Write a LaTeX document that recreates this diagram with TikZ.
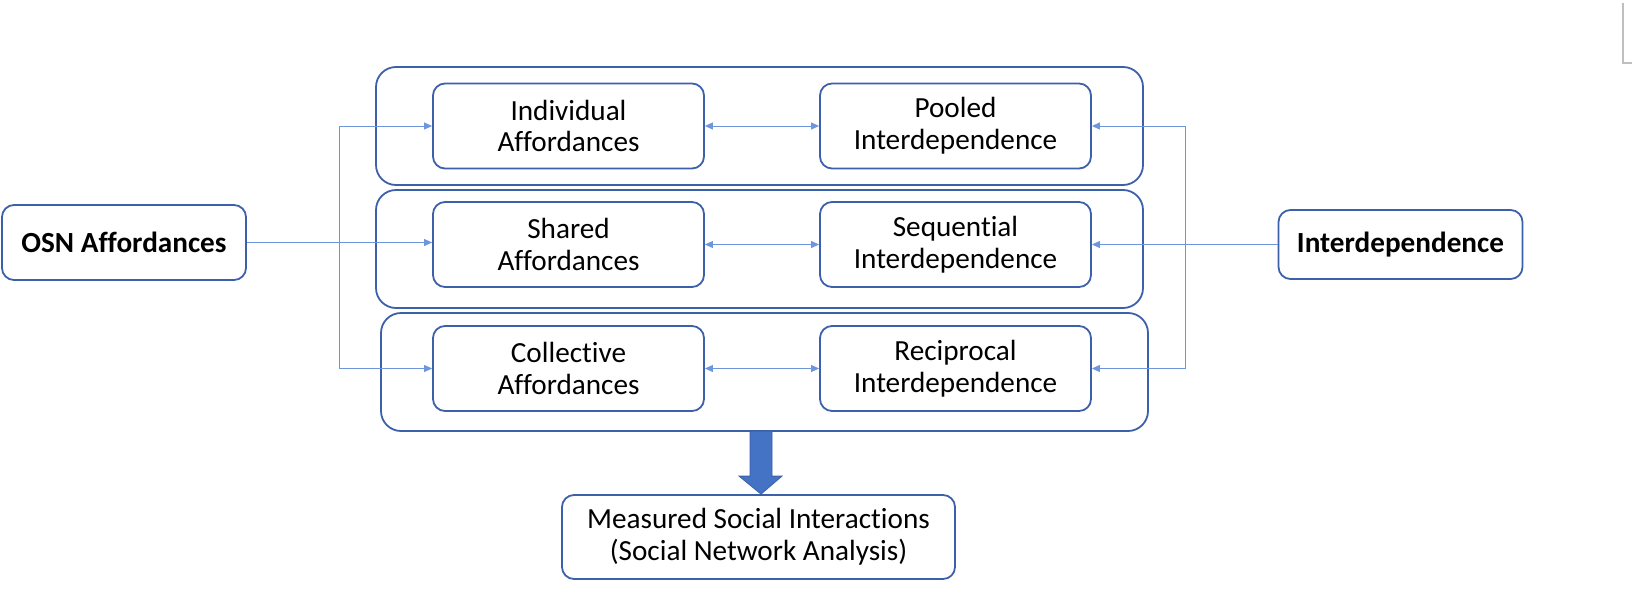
\documentclass[tikz,border=0pt]{standalone}
\usepackage{fontspec}
\setmainfont{Carlito}[Ligatures=NoCommon]
\usetikzlibrary{arrows.meta,calc}
\definecolor{boxblue}{RGB}{61,96,170}
\definecolor{linkblue}{RGB}{110,150,220}
\definecolor{fillblue}{RGB}{68,114,196}

\begin{document}
\begin{tikzpicture}[x=0.5pt,y=-0.5pt,
    >={Triangle[length=4pt,width=3.5pt]},
    txt/.style={font=\fontsize{14.6}{15.8}\selectfont},
    box/.style={txt,draw=boxblue,line width=0.9pt,rounded corners=6pt,align=center,inner sep=0pt},
    inbox/.style={box,minimum width=135.5pt,minimum height=42.5pt},
    outer/.style={draw=boxblue,line width=0.9pt,rounded corners=10pt,minimum width=383.5pt,minimum height=59pt,inner sep=0pt},
    side/.style={box,font=\fontsize{14.6}{15.8}\selectfont\bfseries,minimum width=122pt},
    link/.style={draw=linkblue,line width=0.5pt},
    bigarrow/.style={fill=fillblue,draw=boxblue,line width=0.4pt}]
    \useasboundingbox (0,0) rectangle (1632,594);
    % the three rows
    \node[outer] (o1) at (759.5,126) {};
    \node[outer] (o2) at (759.5,249) {};
    \node[outer] (o3) at (764.5,372) {};
    \node[inbox] (ia) at (568.5,126) {Individual\\Affordances};
    \node[inbox] (sa) at (568.5,244.5) {Shared\\Affordances};
    \node[inbox] (ca) at (568.5,368.5) {Collective\\Affordances};
    \node[inbox] (pi) at (955.5,126) {Pooled\\Interdependence};
    \node[inbox] (si) at (955.5,244.5) {Sequential\\Interdependence};
    \node[inbox] (ri) at (955.5,368.5) {Reciprocal\\Interdependence};
    % inputs and result
    \node[side,minimum height=37.5pt] (osn) at (124,242.5) {OSN Affordances};
    \node[side,minimum height=34.5pt] (idp) at (1400.5,244.5) {Interdependence};
    \node[box,minimum width=196.5pt,minimum height=42pt] (sna) at (758.5,537) {Measured Social Interactions\\(Social Network Analysis)};
    \coordinate (lbus) at (339,0);
    \coordinate (rbus) at (1185,0);
    \draw[link,->] (osn.east) -- (osn.east -| sa.west);
    \draw[link,<->] (ia.west) -- (ia.west -| lbus) |- (ca.west);
    \draw[link,->] (idp.west) -- (idp.west -| si.east);
    \draw[link,<->] (pi.east) -- (pi.east -| rbus) |- (ri.east);
    \draw[link,<->] (ia) -- (pi);
    \draw[link,<->] (sa) -- (si);
    \draw[link,<->] (ca) -- (ri);
    \coordinate (tip) at ($(sna.north)+(2.5,0)$);
    \filldraw[bigarrow] (tip) -- ++(21,-18) -- ++(-10,0) -- ++(0,-45) -- ++(-22,0)
        -- ++(0,45) -- ++(-11,0) -- cycle;
    \draw[gray!50,line width=0.6pt] (1623,3) -- (1623,63) -- (1632,63);
\end{tikzpicture}
\end{document}
